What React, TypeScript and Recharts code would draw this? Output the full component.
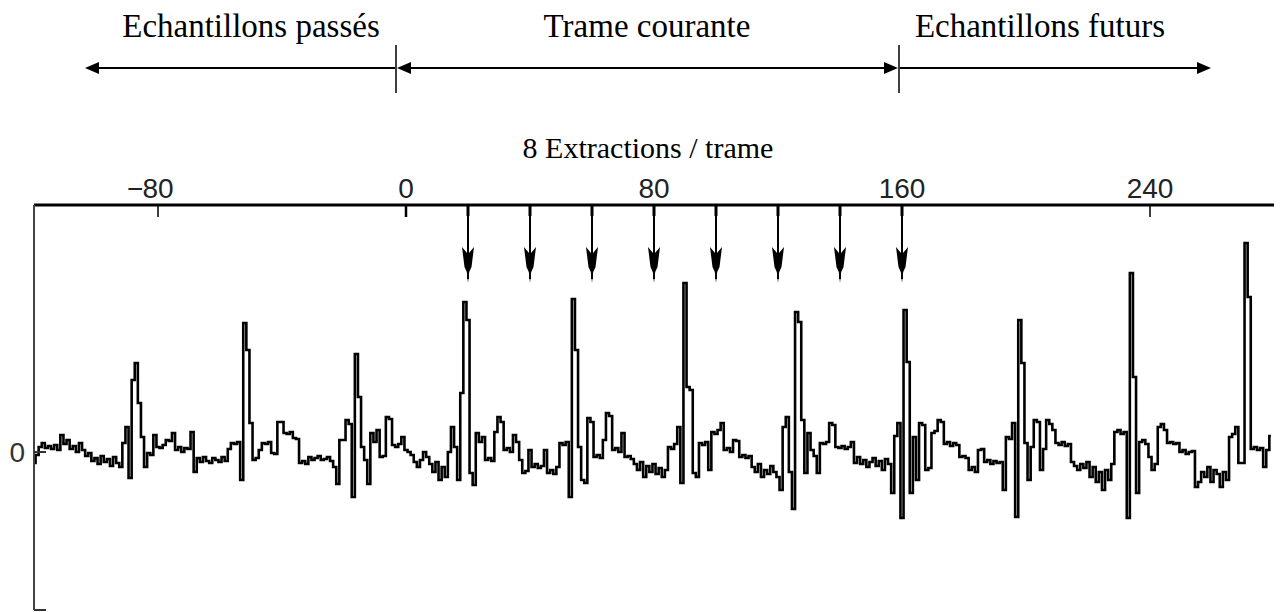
import React from 'react';
import { LineChart, Line, XAxis, YAxis, ReferenceLine } from 'recharts';

// ---------- data ----------
const START_SAMPLE = -120;
// one value per sample, samples -120 .. 279
const SIGNAL: number[] = [
  -11, -3, 5, 9, 4, 6, 3, 7, 2, 17,
  8, 12, 3, 6, 0, 9, 2, -4, -1, -9,
  -6, -12, -4, -10, -7, -14, -5, -11, -15, 9,
  25, -26, 72, 89, 49, 15, -15, -1, -3, 17,
  5, 4, 7, 12, 11, 19, 2, 5, 0, 4,
  3, 20, -20, -6, -10, -5, -9, -11, -6, -8,
  -10, -5, -9, 3, 9, 8, 10, -28, 129, 102,
  29, -8, -6, 2, 9, 8, 10, -1, -2, 30,
  30, 19, 18, 20, 14, 13, -11, -9, -12, -5,
  -8, -6, -4, -8, -7, -5, -9, -15, -32, 12,
  12, 32, 28, -45, 98, 55, 5, -8, -32, 19,
  10, 22, -5, -4, 35, 33, 7, 5, 8, 15,
  2, 0, -3, -10, -15, -8, 0, -5, -12, -20,
  -10, -28, -15, -25, 0, 25, 5, -28, 59, 150,
  132, -21, -33, 19, 10, 15, -8, -6, -9, 20,
  35, 30, 2, 4, 0, 17, 10, -8, -21, -19,
  2, -15, -12, -16, -14, 2, -21, -18, -22, -15,
  9, 7, 10, -45, 153, 102, 5, -28, -31, 34,
  30, -5, -3, -6, 12, 39, 36, 2, 4, 0,
  19, -5, -4, -7, -12, -18, -10, -25, -14, -20,
  -12, -22, -16, -25, -18, 5, 3, 8, 25, -31,
  169, 65, 62, -21, -25, 9, 7, 10, -18, 20,
  18, 22, 29, 2, 4, 0, 12, 11, -5, -3,
  -6, -4, -15, -20, -12, -25, -18, -22, -14, -20,
  -25, -38, 25, 35, -20, -57, 140, 130, 32, -21,
  19, 2, -4, -21, 9, 8, 10, 29, 27, 5,
  4, 6, 3, 5, 10, -11, -5, -12, -8, -15,
  -10, -6, -14, -9, -18, -7, -12, -41, 16, 29,
  -66, 142, 90, -41, 15, -28, 29, 27, -18, -16,
  19, 21, 32, 30, 8, 10, 6, 9, 7, -5,
  -4, -6, -18, -15, -20, 2, 3, -10, -8, -12,
  -9, -11, -10, -38, 15, 13, 29, -65, 132, 89,
  9, -28, 5, 32, 30, -18, 3, 32, 28, 22,
  9, 7, 10, 6, 8, -10, -14, -18, -12, -16,
  -10, -25, -15, -30, -20, -38, -18, -28, -12, 20,
  22, 18, 20, -66, 179, 75, -41, 10, 12, 8,
  -5, -18, -12, 25, 28, 22, 9, 10, 8, 9,
  0, 2, -2, 0, 1, -35, -30, -20, -25, -15,
  -30, -18, -22, -35, -20, -28, 15, 18, 25, -11,
  -11, 209, 155, 3, 5, 2, 4, -15, 2, 16,
];

const X_DOMAIN: [number, number] = [-120, 280];
const X_TICKS = [-80, 0, 80, 160, 240];
const Y_DOMAIN: [number, number] = [-158, 247];
const Y_TICKS = [-158, 0];
const Y_LABELLED = [0];
const EXTRACTIONS = [20, 40, 60, 80, 100, 120, 140, 160];
const ARROW_TIP_VALUE = 169;
const X_AXIS_TITLE = '8 Extractions / trame';
const SECTION_LABELS = ['Echantillons passés', 'Trame courante', 'Echantillons futurs'];

const chartData = SIGNAL.map((v, i) => ({ s: START_SAMPLE + i, v }));

// ---------- rendering ----------
const W = 1282;
const H = 612;
const SANS = '"Liberation Sans", Arial, Helvetica, sans-serif';
const SERIF = '"Liberation Serif", "Times New Roman", Times, serif';
const TICK_FS = 28;

const XTick = (props: any) => {
  const { x, y, payload } = props;
  const axisY = y + 7;
  const val: number = payload.value;
  const digits = String(Math.abs(val));
  const half = (digits.length * 0.556 * TICK_FS) / 2;
  return (
    <g>
      <line x1={x} x2={x} y1={axisY} y2={axisY + 12} stroke="#000" strokeWidth={val === 0 ? 2.5 : 1.5} />
      <text x={x} y={y} textAnchor="middle" fontSize={TICK_FS} fontFamily={SANS} fill="#222">
        {digits}
      </text>
      {val < 0 && (
        <text x={x - half + 1} y={y} textAnchor="end" fontSize={TICK_FS} fontFamily={SANS} fill="#222">
          {'\u2212'}
        </text>
      )}
    </g>
  );
};

const YTick = (props: any) => {
  const { x, y, payload } = props;
  return (
    <g>
      <line x1={x + 9} x2={x + 21} y1={y} y2={y} stroke="#333" strokeWidth={2} />
      {Y_LABELLED.includes(payload.value) && (
        <text x={x} y={y + 10} textAnchor="end" fontSize={TICK_FS} fontFamily={SANS} fill="#333">
          {String(payload.value)}
        </text>
      )}
    </g>
  );
};

const ExtractionArrow = (props: any) => {
  const { x1, y1, y2 } = props;
  const x = x1;
  const top = Math.min(y1, y2);
  const tip = Math.max(y1, y2);
  const h = tip - 36;
  return (
    <g>
      <rect x={x - 1.5} y={top} width={3} height={11} fill="#000" />
      <line x1={x} x2={x} y1={top} y2={tip - 4} stroke="#000" strokeWidth={2} />
      <path
        d={`M${x - 6},${h} L${x - 1},${h + 6} L${x + 1},${h + 6} L${x + 6},${h} L${x + 3.5},${h + 20} L${x + 1.2},${h + 25} L${x},${tip} L${x - 1.2},${h + 25} L${x - 3.5},${h + 20} Z`}
        fill="#000"
      />
    </g>
  );
};

const Header = () => {
  const ay = 68;
  const head = 14;
  const hh = 6;
  const leftHead = (x: number) => `M${x},${ay} L${x + head},${ay - hh} L${x + head},${ay + hh} Z`;
  const rightHead = (x: number) => `M${x},${ay} L${x - head},${ay - hh} L${x - head},${ay + hh} Z`;
  return (
    <svg width={W} height={H} style={{ position: 'absolute', left: 0, top: 0, pointerEvents: 'none' }}>
      <g fontFamily={SERIF} fontSize={33} fill="#000" textAnchor="middle">
        <text x={251} y={37}>{SECTION_LABELS[0]}</text>
        <text x={647} y={37}>{SECTION_LABELS[1]}</text>
        <text x={1040} y={37}>{SECTION_LABELS[2]}</text>
        <text x={648} y={158} fontSize={30}>{X_AXIS_TITLE}</text>
      </g>
      <g stroke="#000" strokeWidth={2}>
        <line x1={396} x2={396} y1={45} y2={93} strokeWidth={1.5} />
        <line x1={899} x2={899} y1={45} y2={93} strokeWidth={1.5} />
        <line x1={90} x2={395} y1={ay} y2={ay} />
        <line x1={402} x2={894} y1={ay} y2={ay} />
        <line x1={900} x2={1205} y1={ay} y2={ay} />
      </g>
      <g fill="#000">
        <path d={leftHead(85)} />
        <path d={leftHead(397)} />
        <path d={rightHead(898)} />
        <path d={rightHead(1211)} />
      </g>
    </svg>
  );
};

export default function App() {
  return (
    <div style={{ position: 'absolute', left: 0, top: 0, width: W, height: H, background: '#fff' }}>
      <LineChart width={W} height={H} data={chartData} margin={{ top: 165, right: 8, bottom: 2, left: 0 }}>
        <XAxis
          dataKey="s"
          type="number"
          orientation="top"
          domain={X_DOMAIN}
          ticks={X_TICKS}
          allowDataOverflow
          height={40}
          axisLine={{ stroke: '#000', strokeWidth: 3 }}
          tickLine={false}
          tickSize={0}
          tickMargin={7}
          tick={<XTick />}
          interval={0}
        />
        <YAxis
          type="number"
          domain={Y_DOMAIN}
          ticks={Y_TICKS}
          allowDataOverflow
          width={34}
          axisLine={{ stroke: '#444', strokeWidth: 2 }}
          tickLine={false}
          tickSize={0}
          tickMargin={9}
          tick={<YTick />}
          interval={0}
        />
        <Line
          dataKey="v"
          type="step"
          stroke="#000"
          strokeWidth={2.6}
          dot={false}
          activeDot={false}
          isAnimationActive={false}
        />
        {EXTRACTIONS.map((e) => (
          <ReferenceLine
            key={e}
            segment={[{ x: e, y: Y_DOMAIN[1] }, { x: e, y: ARROW_TIP_VALUE }]}
            ifOverflow="visible"
            shape={<ExtractionArrow />}
          />
        ))}
      </LineChart>
      <Header />
    </div>
  );
}
